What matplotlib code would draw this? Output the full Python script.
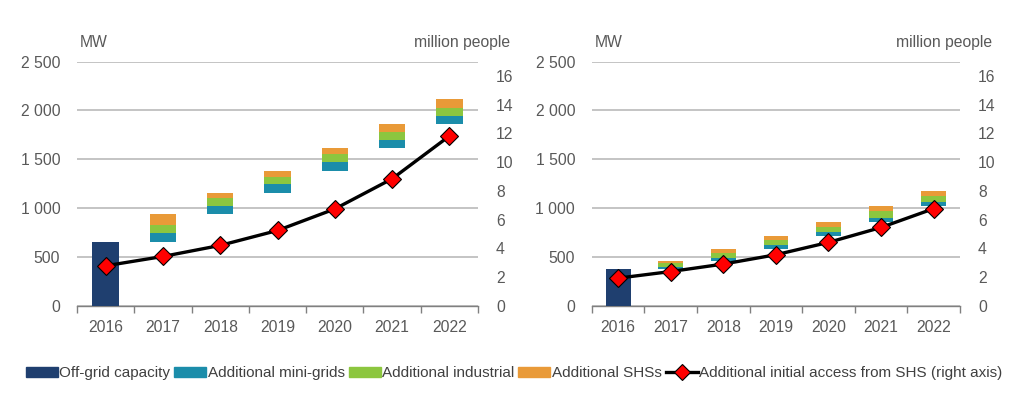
import numpy as np
import matplotlib.pyplot as plt
from matplotlib.lines import Line2D
from matplotlib.patches import Patch
from matplotlib.ticker import FuncFormatter

plt.rcParams['font.family'] = ['Liberation Sans', 'DejaVu Sans']

years = ['2016', '2017', '2018', '2019', '2020', '2021', '2022']

left_offgrid = [653, 0, 0, 0, 0, 0, 0]
left_minigrids = [0, 89, 85, 92, 89, 85, 82]
left_industrial = [0, 85, 79, 78, 85, 79, 79]
left_shs = [0, 109, 52, 58, 59, 85, 95]
left_access = [2.78, 3.43, 4.20, 5.24, 6.74, 8.84, 11.82]

right_offgrid = [374, 0, 0, 0, 0, 0, 0]
right_minigrids = [0, 26, 28, 44, 35, 40, 37]
right_industrial = [0, 34, 51, 51, 51, 78, 65]
right_shs = [0, 24, 41, 44, 51, 50, 54]
right_access = [1.92, 2.38, 2.90, 3.55, 4.41, 5.45, 6.76]

labels = ['Off-grid capacity', 'Additional mini-grids', 'Additional industrial',
          'Additional SHSs', 'Additional initial access from SHS (right axis)']

C_NAVY = '#1F3F6F'
C_TEAL = '#1B8DAA'
C_GREEN = '#8CC63F'
C_ORANGE = '#E99A38'
C_TICK = '#595959'
C_GRID = '#BFBFBF'
FS = 11.3

fig = plt.figure(figsize=(10.24, 3.97), dpi=100)


def fmt_thousands(v, pos):
    return f'{int(v):,}'.replace(',', ' ')


def panel(rect, offgrid, mini, ind, shs, access, width):
    ax = fig.add_axes(rect)
    x = np.arange(len(years))
    offgrid = np.array(offgrid, float)
    mini = np.array(mini, float)
    ind = np.array(ind, float)
    shs = np.array(shs, float)
    inc = offgrid + mini + ind + shs
    base = np.concatenate([[0], np.cumsum(inc)[:-1]])
    ax.bar(x, offgrid, width, color=C_NAVY, zorder=3)
    ax.bar(x, mini, width, bottom=base, color=C_TEAL, zorder=3)
    ax.bar(x, ind, width, bottom=base + mini, color=C_GREEN, zorder=3)
    ax.bar(x, shs, width, bottom=base + mini + ind, color=C_ORANGE, zorder=3)
    ax.set_xlim(-0.5, len(years) - 0.5)
    ax.set_ylim(0, 2500)
    ax.set_yticks(np.arange(0, 2501, 500))
    ax.yaxis.set_major_formatter(FuncFormatter(fmt_thousands))
    ax.yaxis.grid(True, color=C_GRID, linewidth=1.3, zorder=0)
    ax.set_axisbelow(True)
    ax.set_xticks(x)
    ax.set_xticklabels(years)
    ax.set_xticks(np.arange(-0.5, len(years)), minor=True)
    ax.tick_params(axis='x', which='major', length=0, pad=10, labelsize=FS, labelcolor=C_TICK)
    ax.tick_params(axis='x', which='minor', length=5, width=1, color='#808080', direction='out')
    ax.tick_params(axis='y', length=0, pad=12, labelsize=FS, labelcolor=C_TICK)
    for s in ['left', 'right', 'top']:
        ax.spines[s].set_visible(False)
    ax.spines['bottom'].set_color('#808080')
    ax.spines['bottom'].set_linewidth(1)

    ax2 = ax.twinx()
    ax2.plot(x, access, color='black', linewidth=2.4, marker='D', markersize=9,
             markerfacecolor='#FF0000', markeredgecolor='black', markeredgewidth=0.8, zorder=5)
    ax2.set_ylim(0, 17.0)
    ax2.set_yticks(np.arange(0, 17, 2))
    ax2.tick_params(axis='y', length=0, pad=13, labelsize=FS, labelcolor=C_TICK)
    for s in ax2.spines.values():
        s.set_visible(False)

    bb = rect
    fig.text(bb[0] + 0.003, bb[1] + bb[3] + 0.048, 'MW', fontsize=FS, color=C_TICK, va='center', ha='left')
    fig.text(bb[0] + bb[2] + 0.031, bb[1] + bb[3] + 0.048, 'million people', fontsize=FS,
             color=C_TICK, va='center', ha='right')
    return ax


axL = panel([0.0752, 0.230, 0.3916, 0.6146], left_offgrid, left_minigrids, left_industrial,
            left_shs, left_access, 0.46)
axR = panel([0.578, 0.230, 0.3594, 0.6146], right_offgrid, right_minigrids, right_industrial,
            right_shs, right_access, 0.47)

handles = [Patch(color=C_NAVY), Patch(color=C_TEAL), Patch(color=C_GREEN), Patch(color=C_ORANGE),
           Line2D([], [], color='black', linewidth=2.4, marker='D', markersize=8,
                  markerfacecolor='#FF0000', markeredgecolor='black', markeredgewidth=0.8)]
fig.legend(handles, labels, loc='center', bbox_to_anchor=(0.502, 0.06), ncol=5, frameon=False,
           fontsize=11, labelcolor='#404040', handlelength=2.1, handleheight=0.65, handletextpad=0.1,
           columnspacing=0.25, borderaxespad=0)

fig.savefig('out.png', dpi=100)
